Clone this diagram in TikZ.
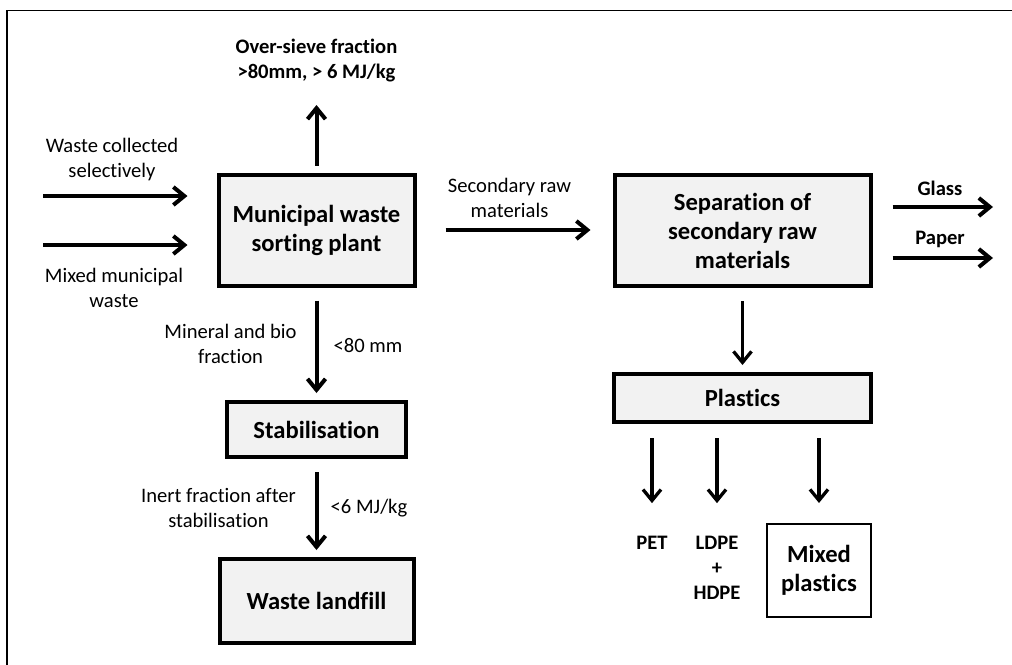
\documentclass[tikz,border=0pt]{standalone}
\usepackage{fontspec}
\setmainfont{Carlito}[Ligatures=NoCommon]
\usetikzlibrary{arrows.meta}
\definecolor{boxgray}{HTML}{F2F2F2}
\tikzset{>={Straight Barb[length=11pt,width=18pt]}}

\begin{document}
\begin{tikzpicture}[x=1pt,y=-1pt]
\tikzset{
  unit/.style={
    draw,
    line width=4pt,
    fill=boxgray,
    align=center,
    inner sep=0pt,
    font=\fontsize{24.6}{29}\selectfont\bfseries
  },
  lbl/.style={align=center, inner sep=0pt, font=\fontsize{20.6}{25}\selectfont},
  blbl/.style={lbl, font=\fontsize{20.6}{25}\selectfont\bfseries},
  flow/.style={->, line width=4pt}
};

\useasboundingbox (0,0) rectangle (1012,664);
\clip (0,0) rectangle (1012,664);
\draw[line width=1.5pt] (7,10.5) rectangle (1040,700);

% boxes
\node[unit, minimum width=196pt, minimum height=111pt] (msp) at (316.5,230) {Municipal waste\\sorting plant};
\node[unit, minimum width=179pt, minimum height=55pt] (stab) at (316.5,429.5) {Stabilisation};
\node[unit, minimum width=194pt, minimum height=84pt] (landfill) at (316.5,601) {Waste landfill};
\node[unit, minimum width=256pt, minimum height=111pt] (sep) at (742.5,230.5) {Separation of\\secondary raw\\materials};
\node[unit, minimum width=257pt, minimum height=48pt] (plastics) at (742.5,398) {Plastics};
\node[unit, fill=white, line width=2pt, minimum width=104pt, minimum height=93pt] (mixed) at (819,570.5) {Mixed\\plastics};

% labels
\node[blbl] (ovs) at (316.5,60.5) {Over-sieve fraction\\>80mm, > 6 MJ/kg};
\node[lbl] (wcs) at (112,159.5) {Waste collected\\selectively};
\node[lbl] (mmw) at (114,288) {Mixed municipal\\waste};
\node[lbl] (mbf) at (230.5,343.5) {Mineral and bio\\fraction};
\node[lbl] (lt80) at (368,346) {<80 mm};
\node[lbl] (ifs) at (218.5,507.5) {Inert fraction after\\stabilisation};
\node[lbl] (lt6) at (369,508) {<6 MJ/kg};
\node[lbl] (srm) at (509.5,197.5) {Secondary raw\\materials};
\node[blbl] (glass) at (940,188) {Glass};
\node[blbl] (paper) at (940,239) {Paper};
\node[blbl] (pet) at (652,543) {PET};
\node[blbl] (ldpe) at (717,568) {LDPE\\+\\HDPE};

% free arrow ends
\coordinate (in1) at (43,196);
\coordinate (in2) at (43,245);
\coordinate (up) at (316.5,105);
\coordinate (out1) at (993,207);
\coordinate (out2) at (993,258);

% flows
\draw[flow, shorten >=29pt] (in1) -- (in1 -| msp.west);
\draw[flow, shorten >=29pt] (in2) -- (in2 -| msp.west);
\draw[flow, shorten <=7pt] (msp.north) -- (up);
\draw[flow, shorten <=13pt, shorten >=7pt] (msp.south) -- (stab.north);
\draw[flow, shorten <=13pt, shorten >=7pt] (stab.south) -- (landfill.north);
\draw[flow, shorten <=29pt, shorten >=22pt] (msp.east) -- (msp.east -| sep.west);
\draw[flow, shorten <=20pt] (sep.east |- out1) -- (out1);
\draw[flow, shorten <=20pt] (sep.east |- out2) -- (out2);
\draw[flow, line width=3.3pt, shorten <=13pt, shorten >=7pt] (sep.south) -- (plastics.north);
\draw[flow, line width=3.3pt, shorten <=14pt, shorten >=33pt] (plastics.south -| pet) -- (pet.north);
\draw[flow, line width=3.3pt, shorten <=14pt, shorten >=33pt] (plastics.south -| ldpe) -- (ldpe.north);
\draw[flow, line width=3.3pt, shorten <=14pt, shorten >=20pt] (plastics.south -| mixed) -- (mixed.north);
\end{tikzpicture}
\end{document}
